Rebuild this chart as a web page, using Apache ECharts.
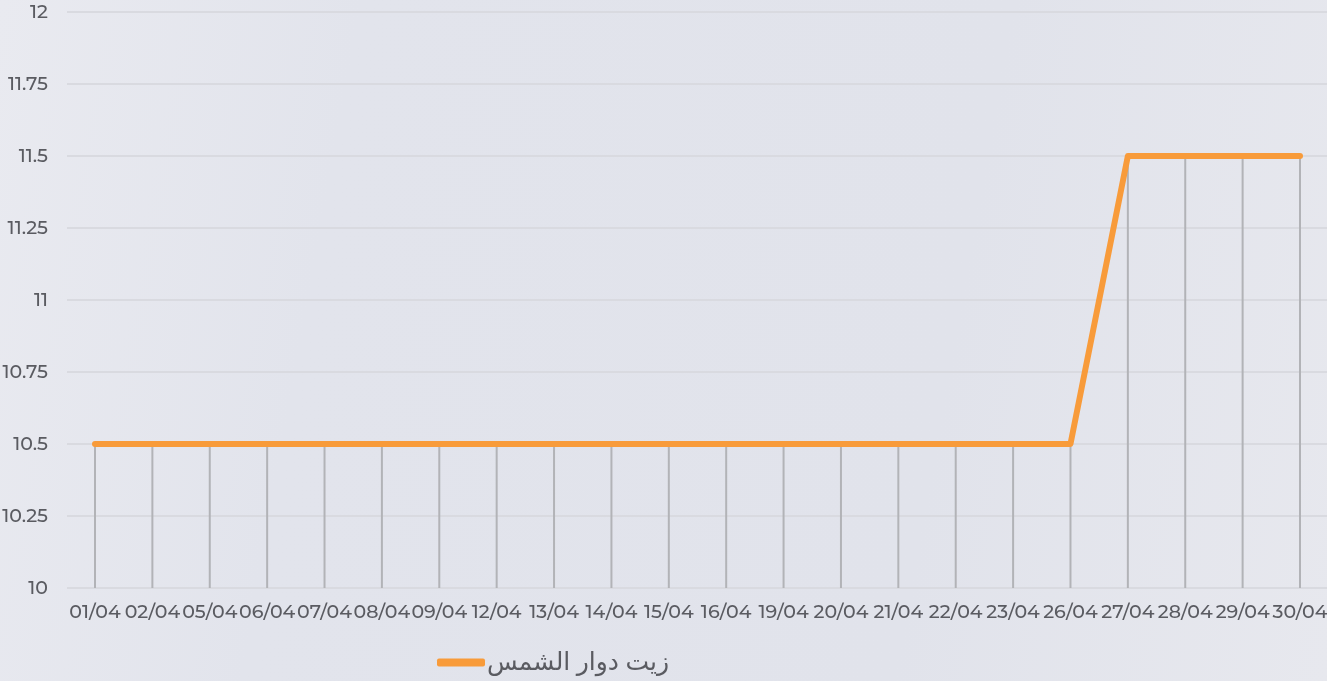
<!DOCTYPE html>
<html>
<head>
<meta charset="utf-8">
<script src="https://cdn.jsdelivr.net/npm/echarts@6/dist/echarts.min.js"></script>
<style>
  html, body { margin: 0; padding: 0; }
  body { background: linear-gradient(100deg, #e9eaf0 0%, #e2e4ec 25%, #e1e3eb 70%, #e7e8ee 100%); }
  #chart { width: 1327px; height: 681px; }
</style>
</head>
<body>
<div id="chart"></div>
<script>
const categories = ['01/04', '02/04', '05/04', '06/04', '07/04', '08/04', '09/04', '12/04', '13/04', '14/04', '15/04',
  '16/04', '19/04', '20/04', '21/04', '22/04', '23/04', '26/04', '27/04', '28/04', '29/04', '30/04']
const sunflowerOil = [10.5, 10.5, 10.5, 10.5, 10.5, 10.5, 10.5, 10.5, 10.5, 10.5, 10.5,
  10.5, 10.5, 10.5, 10.5, 10.5, 10.5, 10.5, 11.5, 11.5, 11.5, 11.5]
const seriesName = 'زيت دوار الشمس'
const yMin = 10
const yMax = 12
const yStep = 0.25

const fontFamily = 'Montserrat, "Open Sans", "Noto Sans", sans-serif'
const textColor = '#5a5b61'

const chart = echarts.init(document.getElementById('chart'))

chart.setOption({
  backgroundColor: 'transparent',
  animation: false,
  grid: [
    { left: 95, right: 27, top: 12, bottom: 93, outerBoundsMode: 'none' },
    // wider grid only for the horizontal split lines and y labels
    { left: 67, right: 0, top: 12, bottom: 93, outerBoundsMode: 'none' }
  ],
  legend: {
    data: [seriesName],
    left: 432,
    top: 645,
    icon: 'roundRect',
    itemWidth: 48,
    itemHeight: 8,
    itemGap: 2,
    textStyle: { fontSize: 25, color: textColor, fontWeight: 500, fontFamily: '"Noto Sans", "DejaVu Sans", sans-serif', padding: [0, 0, 0, -3] }
  },
  xAxis: [
    {
      type: 'category',
      gridIndex: 0,
      data: categories,
      boundaryGap: false,
      axisLine: { show: false },
      axisTick: { show: false },
      axisLabel: { color: textColor, fontSize: 19, fontWeight: 500, fontFamily: fontFamily, margin: 15, interval: 0 }
    },
    { type: 'value', gridIndex: 1, show: false, min: 0, max: 1 }
  ],
  yAxis: [
    {
      type: 'value',
      gridIndex: 0,
      min: yMin,
      max: yMax,
      interval: yStep,
      axisLabel: { show: false },
      splitLine: { show: false },
      axisLine: { show: false },
      axisTick: { show: false }
    },
    {
      type: 'value',
      gridIndex: 1,
      min: yMin,
      max: yMax,
      interval: yStep,
      axisLine: { show: false },
      axisTick: { show: false },
      axisLabel: { color: textColor, fontSize: 19, fontWeight: 500, fontFamily: fontFamily, margin: 19 },
      splitLine: { lineStyle: { color: '#d9dae0', width: 2 } }
    }
  ],
  series: [
    {
      name: 'drop',
      type: 'bar',
      xAxisIndex: 0,
      yAxisIndex: 0,
      data: sunflowerOil,
      barWidth: 2,
      itemStyle: { color: '#b2b3b7' },
      z: 1,
      silent: true
    },
    {
      name: seriesName,
      type: 'line',
      xAxisIndex: 0,
      yAxisIndex: 0,
      data: sunflowerOil,
      showSymbol: false,
      lineStyle: { color: '#f89b3a', width: 6, cap: 'round', join: 'round' },
      itemStyle: { color: '#f89b3a' },
      z: 3
    }
  ]
})
</script>
</body>
</html>
